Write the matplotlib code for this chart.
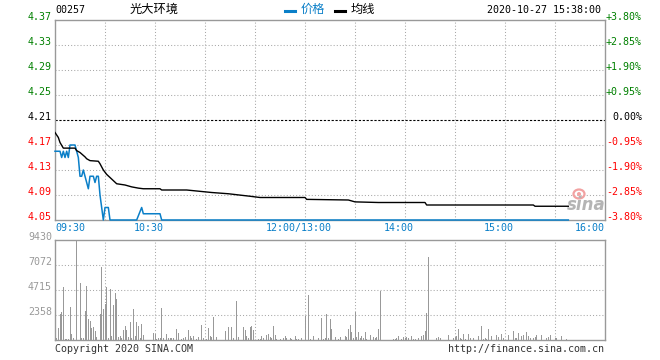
import matplotlib
matplotlib.use("Agg")
import matplotlib.pyplot as plt
import matplotlib.transforms as mtransforms
from matplotlib.patches import Ellipse

plt.rcParams['font.family'] = ['DejaVu Sans Mono', 'Noto Sans CJK SC']

# ---- data (minutes counted from 09:30, lunch break removed) ----
prev_close = 4.21

price_min = [0, 3, 4, 5, 6, 7, 8, 9, 12, 13, 14, 15, 16, 17, 18, 19, 20, 21, 23,
             24, 25, 26, 27, 28, 29, 30, 32, 33, 49, 52, 53, 63, 64, 308]
price_val = [4.16, 4.16, 4.15, 4.16, 4.15, 4.16, 4.15, 4.17, 4.17, 4.16, 4.15,
             4.12, 4.12, 4.13, 4.12, 4.11, 4.10, 4.12, 4.12, 4.11, 4.12, 4.12,
             4.09, 4.07, 4.05, 4.07, 4.07, 4.05, 4.05, 4.07, 4.06, 4.06, 4.05, 4.05]

avg_min = [0, 2, 3, 5, 12, 13, 15, 18, 19, 21, 26, 27, 29, 31, 33, 35, 37, 42,
           46, 50, 53, 63, 64, 79, 94, 104, 117, 123, 150, 151, 176, 180, 194,
           222, 223, 287, 288, 308]
avg_val = [4.190, 4.182, 4.174, 4.165, 4.165, 4.161, 4.158, 4.151, 4.148, 4.145,
           4.144, 4.140, 4.130, 4.123, 4.118, 4.113, 4.108, 4.106, 4.103, 4.101,
           4.100, 4.100, 4.098, 4.098, 4.094, 4.092, 4.088, 4.086, 4.086, 4.083,
           4.082, 4.079, 4.078, 4.078, 4.074, 4.074, 4.072, 4.072]

vol_min = [1, 2, 3, 4, 5, 6, 7, 8, 9, 10, 11, 13, 15, 16, 17, 18, 19, 20, 21, 22,
           23, 24, 25, 27, 28, 29, 30, 31, 32, 33, 34, 35, 36, 37, 38, 39, 40, 41,
           42, 43, 44, 45, 46, 47, 48, 49, 50, 51, 52, 53, 59, 60, 61, 62, 63, 64,
           65, 67, 68, 69, 70, 71, 73, 74, 76,
           77, 78, 80, 81, 82, 83, 85, 86, 88, 89, 91, 92, 93, 94, 95, 97, 102,
           104, 106, 107, 109, 110, 113, 114, 115, 116, 117, 118, 119, 122, 123,
           124, 125, 127, 128, 129, 130, 131, 132, 133, 135, 137, 138, 139, 141,
           142, 144, 145, 146, 148, 150, 152,
           153, 155, 158, 160, 161, 162, 163, 164, 165, 166, 168, 170, 171, 174,
           175, 176, 177, 178, 179, 180, 181, 182, 183, 184, 185, 186, 187, 189,
           191, 192, 193, 194, 195, 203, 204, 205, 206, 208, 209, 210, 211, 212,
           214, 215, 216, 218, 220, 221, 222, 223, 224, 229, 230,
           231, 236, 239, 240, 241, 242, 243, 244, 245, 246, 248, 249, 251, 254,
           256, 257, 258, 259, 260, 262, 265, 266, 268, 269, 272, 275, 276, 277,
           278, 280, 281, 283, 284, 285, 287, 288, 289, 292, 295, 296, 297, 300,
           301, 304, 307]
vol = [190, 1130, 2450, 2640, 4970, 130, 95, 130, 3110, 566, 190, 9430, 5375, 190,
       190, 2770, 5125, 2010, 1820, 1130, 1225, 880, 283, 2450, 6880, 2950, 3390,
       5000, 190, 4810, 345, 3270, 4465, 3870, 283, 377, 190, 943, 1320, 943, 283,
       1700, 190, 2920, 377, 1700, 1320, 190, 1510, 470, 660, 566, 95, 190, 190,
       3020, 190, 566, 190, 190, 190, 190, 1040, 660, 95,
       190, 283, 943, 377, 190, 377, 95, 283, 1415, 190, 95, 1130, 377, 283, 2170,
       283, 850, 1225, 1225, 190, 3680, 283, 1225, 943, 377, 190, 1225, 1320, 943,
       95, 95, 377, 190, 470, 566, 283, 190, 1320, 470, 95, 95, 190, 377, 190, 190,
       95, 377, 95, 95, 190, 2300, 4250,
       95, 377, 190, 2075, 95, 190, 2450, 190, 1980, 1040, 283, 95, 283, 377, 283,
       1040, 1415, 754, 190, 2640, 283, 754, 190, 377, 190, 754, 95, 470, 283, 190,
       283, 1040, 4650, 95, 95, 190, 377, 95, 283, 190, 283, 190, 377, 95, 95, 190,
       377, 470, 850, 2550, 7830, 190, 283,
       190, 470, 190, 283, 377, 1040, 190, 95, 566, 95, 566, 190, 190, 377, 1320,
       95, 190, 95, 1040, 377, 470, 283, 566, 190, 470, 850, 190, 190, 660, 377,
       470, 754, 377, 190, 190, 283, 470, 470, 190, 283, 470, 190, 190, 377, 95]

price_levels = [4.05, 4.09, 4.13, 4.17, 4.21, 4.25, 4.29, 4.33, 4.37]
price_labels = ['4.05', '4.09', '4.13', '4.17', '4.21', '4.25', '4.29', '4.33', '4.37']
pct_labels = ['-3.80%', '-2.85%', '-1.90%', '-0.95%', '0.00%',
              '+0.95%', '+1.90%', '+2.85%', '+3.80%']
vol_levels = [2358, 4715, 7072, 9430]
vol_labels = ['2358', '4715', '7072', '9430']
vol_max = 9430
time_min = [0, 60, 150, 210, 270, 330]
time_labels = ['09:30', '10:30', '12:00/13:00', '14:00', '15:00', '16:00']
grid_min = [30, 60, 90, 120, 150, 180, 210, 240, 270, 300]

BLUE = '#0a7fc8'
GREEN = '#008000'
RED = '#ff0000'
GRID = '#a8a8a8'
FRAME = '#999999'
VOLC = '#999999'

W, H = 660, 360
fig = plt.figure(figsize=(6.6, 3.6), dpi=100)


def fx(x):
    return x / W


def fy(y):
    return 1 - y / H


ax = fig.add_axes([fx(55), fy(220), 550 / W, 200 / H])
axv = fig.add_axes([fx(55), fy(340), 550 / W, 100 / H])

for a in (ax, axv):
    a.set_xlim(0, 330)
    a.set_xticks(grid_min)
    a.tick_params(length=0, labelbottom=False, labelleft=False)
    a.grid(True, color=GRID, ls=(0, (1, 2)), lw=0.75)
    for s in a.spines.values():
        s.set_color(FRAME)
        s.set_linewidth(1.0)

# price panel
ax.set_ylim(price_levels[0], price_levels[-1])
ax.set_yticks([p for p in price_levels[1:-1] if p != prev_close])
ax.axhline(prev_close, color='black', ls=(0, (2, 1.5)), lw=0.8, zorder=2)
ax.plot(price_min, price_val, color=BLUE, lw=1.1, zorder=3, clip_on=False)
ax.plot(avg_min, avg_val, color='black', lw=1.0, zorder=4)

trp = mtransforms.blended_transform_factory(fig.transFigure, ax.transData)
for p, lab, pl in zip(price_levels, price_labels, pct_labels):
    if p > prev_close + 1e-9:
        c = GREEN
    elif p < prev_close - 1e-9:
        c = RED
    else:
        c = 'black'
    fig.text(fx(52), p, lab, transform=trp, ha='right', va='baseline',
             fontsize=7.2, color=c)
    fig.text(fx(642), p, pl, transform=trp, ha='right', va='baseline',
             fontsize=7.2, color=c)

# time labels under price panel
tr_t = mtransforms.offset_copy(ax.get_xaxis_transform(), fig=fig, x=-6, y=-10.7, units='dots')
tr_t0 = mtransforms.offset_copy(ax.get_xaxis_transform(), fig=fig, x=0, y=-10.7, units='dots')
for i, (m, lab) in enumerate(zip(time_min, time_labels)):
    if i == 0:
        ax.text(m, 0, lab, transform=tr_t0, ha='left', va='baseline', fontsize=7.2, color=BLUE)
    elif i == len(time_min) - 1:
        ax.text(m, 0, lab, transform=tr_t0, ha='right', va='baseline', fontsize=7.2, color=BLUE)
    else:
        ax.text(m, 0, lab, transform=tr_t, ha='center', va='baseline', fontsize=7.2, color=BLUE)

# volume panel
axv.set_ylim(0, vol_max)
axv.set_yticks(vol_levels[:-1])
axv.bar(vol_min, vol, width=0.6, color=VOLC, linewidth=0, zorder=3)
trv = mtransforms.blended_transform_factory(fig.transFigure, axv.transData)
for v, lab in zip(vol_levels, vol_labels):
    fig.text(fx(52), v, lab, transform=trv, ha='right', va='baseline',
             fontsize=7.2, color='#999999')

# header
fig.text(fx(55), fy(12.7), '00257', ha='left', va='baseline', fontsize=7.2, color='black')
fig.text(fx(130), fy(9.5), '光大环境', ha='left', va='center', fontsize=8.8, color='black')
ax.add_line(plt.Line2D([fx(285), fx(295)], [fy(11), fy(11)], transform=fig.transFigure,
                       color=BLUE, lw=2.2, clip_on=False))
fig.text(fx(301), fy(9.5), '价格', ha='left', va='center', fontsize=8.8, color=BLUE)
ax.add_line(plt.Line2D([fx(335), fx(345)], [fy(11), fy(11)], transform=fig.transFigure,
                       color='black', lw=2.2, clip_on=False))
fig.text(fx(351), fy(9.5), '均线', ha='left', va='center', fontsize=8.8, color='black')
fig.text(fx(601), fy(12.7), '2020-10-27 15:38:00', ha='right', va='baseline',
         fontsize=7.2, color='black')

# footer
fig.text(fx(55), fy(352.5), 'Copyright 2020 SINA.COM', ha='left', va='baseline',
         fontsize=7.2, color='#333333')
fig.text(fx(604), fy(352.5), 'http://finance.sina.com.cn', ha='right', va='baseline',
         fontsize=7.2, color='#333333')

# sina watermark
fig.text(fx(586), fy(210), 'sina', ha='center', va='baseline', fontsize=12,
         family='DejaVu Sans', weight='bold', style='italic', color='#b4b4b4')
fig.add_artist(Ellipse((fx(579), fy(194)), 11 / W, 9 / H, transform=fig.transFigure,
                       fc='none', ec='#f2a2a2', lw=1.6))
fig.add_artist(Ellipse((fx(579), fy(194)), 4 / W, 4 / H, transform=fig.transFigure,
                       fc='#f2a2a2', ec='none'))

fig.savefig('out.png', dpi=100)
